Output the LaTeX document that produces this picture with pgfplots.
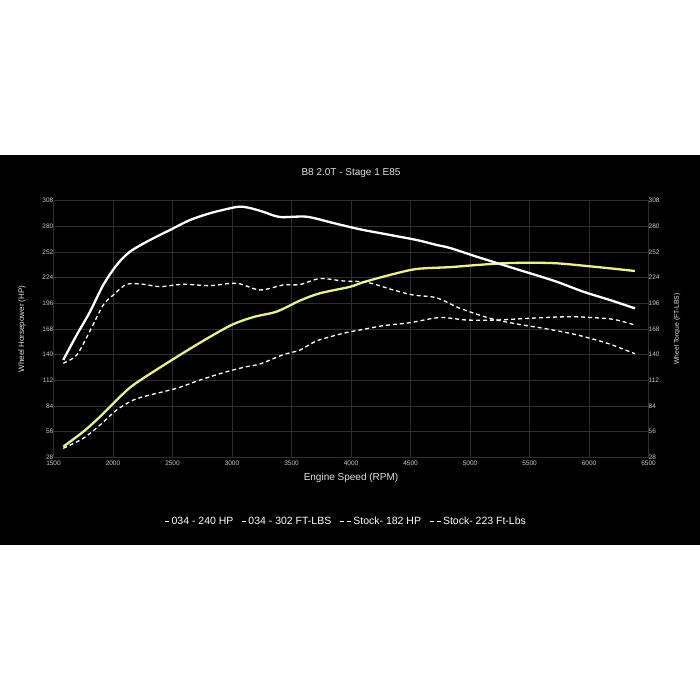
\documentclass[border=0pt]{standalone}
\usepackage{pgfplots}
\pgfplotsset{compat=1.18}
\usepackage{fontspec}
\setmainfont{Liberation Sans}
\definecolor{yel}{RGB}{236,240,140}
\definecolor{gridc}{RGB}{46,46,46}
\definecolor{tickc}{RGB}{200,200,200}
\definecolor{labc}{RGB}{225,225,225}
\begin{document}
\begin{tikzpicture}[x=1pt,y=1pt]
\fill[white] (0,0) rectangle (700,700);
\fill[black] (0,155) rectangle (700,545);
\useasboundingbox (0,0) rectangle (700,700);
\begin{axis}[
  at={(53.5pt,242.7pt)}, anchor=south west,
  scale only axis, width=595pt, height=256.6pt,
  xmin=1500, xmax=6500, ymin=28, ymax=308,
  xtick={1500,2000,...,6500}, ytick={28,56,...,308},
  grid=major, major grid style={gridc, line width=0.7pt},
  axis line style={draw=none}, tick style={draw=none},
  tick label style={font=\fontsize{6.5}{7}\selectfont, text=tickc, inner sep=1pt},
  /pgf/number format/assume math mode=true,
  /pgf/number format/1000 sep={},
  yticklabel style={xshift=1pt},
  xticklabel style={yshift=-2.5pt},
  title={B8 2.0T - Stage 1 E85},
  title style={at={(axis description cs:0.5,1.085)}, anchor=center, font=\fontsize{10}{12}\selectfont, text=labc},
  xlabel={Engine Speed (RPM)},
  every axis x label/.style={at={(axis description cs:0.5,-0.081)}, anchor=center, font=\fontsize{10}{12}\selectfont, text=labc},
  ylabel={Wheel Horsepower (HP)},
  every axis y label/.style={at={(axis description cs:-0.053,0.5)}, rotate=90, anchor=center, font=\fontsize{8}{9}\selectfont, text=labc},
  legend style={at={(axis description cs:0.492,-0.25)}, anchor=center, draw=none, fill=none, text=white, font=\fontsize{10.5}{12}\selectfont, /tikz/every even column/.append style={column sep=6pt}},
  legend columns=4, legend cell align=left,
]
\addplot[yel, line width=2.3pt, smooth,
  legend image code/.code={\draw[white, solid, line width=1pt] (0pt,0pt) -- (4pt,0pt);}]
coordinates {
(1582,39.6) (1750,55.9) (1891,72.3) (2031,90.5) (2171,106.9) (2451,130.6)
(2731,153) (2990,172) (3179,181) (3376,187) (3571,199) (3739,207) (3991,214)
(4103,219) (4328,227) (4552,233.5) (4832,235.5) (5056,237.8) (5280,239.7)
(5504,240.3) (5728,239.7) (5952,237.1) (6176,234.2) (6386,231.3)
};
\addlegendentry{034 - 240 HP}
\addplot[white, line width=2.3pt, smooth,
  legend image code/.code={\draw[white, solid, line width=1pt] (0pt,0pt) -- (4pt,0pt);}]
coordinates {
(1582,134.2) (1695,161.5) (1807,186.9) (1918,216.0) (2031,237.8) (2143,252.4)
(2311,265.1) (2479,276.0) (2647,286.9) (2815,294.3) (2983,299.7) (3067,301.5)
(3151,300.0) (3260,296.0) (3403,290.2) (3628,290.5) (3849,283.7) (4075,276.8)
(4328,270.6) (4552,265.1) (4720,259.7) (4832,256.4) (5056,246.9) (5280,237.8)
(5504,228.8) (5728,219.6) (5952,208.7) (6176,199.6) (6386,190.6)
};
\addlegendentry{034 - 302 FT-LBS}
\addplot[white, line width=1.3pt, smooth, dash pattern=on 4pt off 3pt,
  legend image code/.code={\draw[white, solid, line width=1pt] (0pt,0pt) -- (4pt,0pt) (7pt,0pt) -- (11pt,0pt);}]
coordinates {
(1582,37.8) (1750,48.7) (1891,63.2) (2031,79.6) (2171,90.5) (2311,96)
(2535,103.3) (2731,112.3) (2955,121.4) (3123,126.9) (3235,129.8) (3431,140)
(3571,145) (3712,155) (3935,163.3) (4075,166.9) (4271,171.6) (4496,174.9)
(4748,180.5) (4972,177.8) (5224,177.8) (5504,179.7) (5840,181.4) (6120,179.7)
(6232,177.8) (6386,172.4)
};
\addlegendentry{Stock- 182 HP}
\addplot[white, line width=1.3pt, smooth, dash pattern=on 4pt off 3pt,
  legend image code/.code={\draw[white, solid, line width=1pt] (0pt,0pt) -- (4pt,0pt) (7pt,0pt) -- (11pt,0pt);}]
coordinates {
(1582,130.6) (1695,139.6) (1807,166) (1918,194.2) (2003,205.1) (2115,216.8)
(2255,216.8) (2395,214.2) (2591,216.8) (2815,215.3) (3039,217.9) (3235,210.6)
(3431,216) (3571,216.5) (3739,223) (3935,220.4) (4132,219) (4355,210.6)
(4523,205.1) (4720,202) (4916,190.6) (5168,179.7) (5392,173.5) (5616,168.8)
(5840,163.3) (6008,157.9) (6176,151.5) (6386,141)
};
\addlegendentry{Stock- 223 Ft-Lbs}
\end{axis}
\begin{axis}[
  at={(53.5pt,242.7pt)}, anchor=south west,
  scale only axis, width=595pt, height=256.6pt,
  xmin=1500, xmax=6500, ymin=28, ymax=308,
  axis y line*=right, axis x line=none,
  ytick={28,56,...,308},
  axis line style={draw=none}, tick style={draw=none},
  tick label style={font=\fontsize{6.5}{7}\selectfont, text=tickc, inner sep=1pt},
  /pgf/number format/assume math mode=true,
  yticklabel style={xshift=-1pt},
  ylabel={Wheel Torque (FT-LBS)},
  every axis y label/.style={at={(axis description cs:1.048,0.5)}, rotate=90, anchor=center, font=\fontsize{6.8}{8}\selectfont, text=labc},
]
\addplot[draw=none, forget plot] coordinates {(1500,28)};
\end{axis}
\end{tikzpicture}
\end{document}
